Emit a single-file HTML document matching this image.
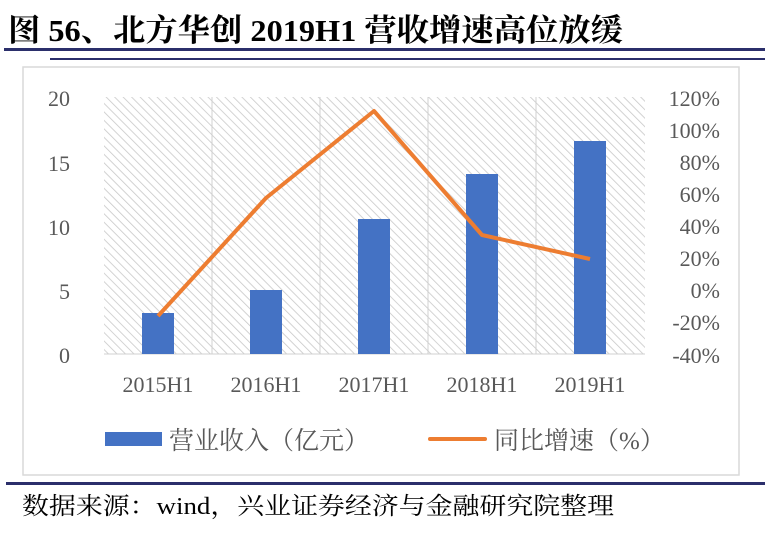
<!DOCTYPE html>
<html><head><meta charset="utf-8"><style>
body{margin:0;width:765px;height:534px;background:#fff;overflow:hidden;font-family:"Liberation Serif","Noto Serif CJK SC",serif;}
</style></head><body>
<svg width="765" height="534" xmlns="http://www.w3.org/2000/svg">
<defs>
<pattern id="h" width="6" height="6" patternUnits="userSpaceOnUse" patternTransform="rotate(-45)">
<rect width="6" height="6" fill="#fff"/><line x1="0" y1="0" x2="0" y2="6" stroke="#c8c8c8" stroke-width="1.6"/>
</pattern>
</defs>
<text x="8" y="41" font-size="31" font-weight="bold" font-family="Liberation Serif,'Noto Serif CJK SC',serif" fill="#000" textLength="615" lengthAdjust="spacingAndGlyphs">图 56、北方华创 2019H1 营收增速高位放缓</text>
<rect x="4" y="48" width="761" height="3" fill="#2b2f6b"/>
<rect x="50" y="58" width="715" height="2" fill="#2b2f6b"/>
<rect x="23" y="67" width="716" height="408" fill="none" stroke="#d9d9d9" stroke-width="1.5"/>
<rect x="104" y="97" width="541" height="257" fill="url(#h)"/>
<g stroke="#d0d0d0" stroke-width="1"><line x1="212" y1="97" x2="212" y2="354"/><line x1="320" y1="97" x2="320" y2="354"/><line x1="428" y1="97" x2="428" y2="354"/><line x1="536" y1="97" x2="536" y2="354"/><line x1="104" y1="354" x2="645" y2="354"/></g>
<g fill="#4472c4">
<rect x="142" y="313" width="32" height="41"/>
<rect x="250" y="290" width="32" height="64"/>
<rect x="358" y="219" width="32" height="135"/>
<rect x="466" y="174" width="32" height="180"/>
<rect x="574" y="141" width="32" height="213"/>
</g>
<polyline points="158,316 266,198 374,111 482,235 590,259" fill="none" stroke="#ed7d31" stroke-width="4" stroke-linejoin="round"/>
<g font-size="22" fill="#595959" text-anchor="end">
<text x="70" y="106">20</text><text x="70" y="171">15</text><text x="70" y="235">10</text><text x="70" y="299">5</text><text x="70" y="363">0</text>
</g>
<g font-size="22" fill="#595959" text-anchor="end">
<text x="720" y="106">120%</text><text x="720" y="138">100%</text><text x="720" y="170">80%</text><text x="720" y="202">60%</text><text x="720" y="234">40%</text><text x="720" y="266">20%</text><text x="720" y="298">0%</text><text x="720" y="330">-20%</text><text x="720" y="363">-40%</text>
</g>
<g font-size="22" fill="#595959" text-anchor="middle">
<text x="158" y="392">2015H1</text><text x="266" y="392">2016H1</text><text x="374" y="392">2017H1</text><text x="482" y="392">2018H1</text><text x="590" y="392">2019H1</text>
</g>
<rect x="105" y="432" width="57" height="14" fill="#4472c4"/>
<text x="169" y="449" font-size="25" fill="#595959">营业收入（亿元）</text>
<line x1="430" y1="439" x2="485" y2="439" stroke="#ed7d31" stroke-width="4" stroke-linecap="round"/>
<text x="494" y="449" font-size="25" fill="#595959">同比增速（%）</text>
<rect x="6" y="482" width="759" height="3" fill="#2b2f6b"/>
<text x="22" y="514" font-size="24" fill="#000" textLength="592" lengthAdjust="spacingAndGlyphs">数据来源：wind，兴业证券经济与金融研究院整理</text>
</svg>
</body></html>
